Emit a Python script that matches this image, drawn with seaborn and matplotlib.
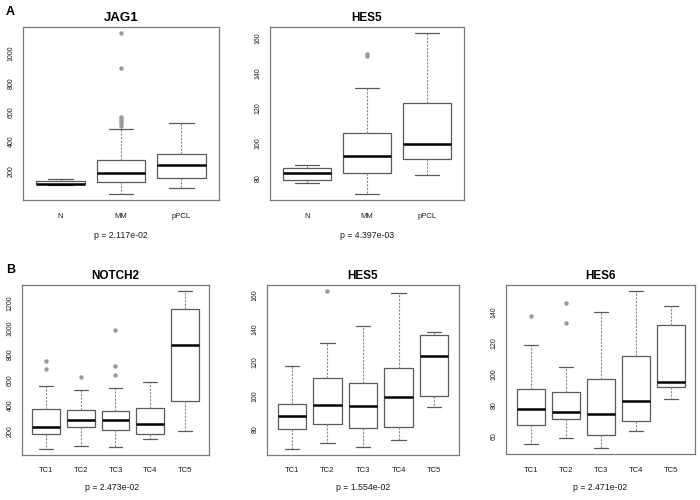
import numpy as np
import pandas as pd
import matplotlib
matplotlib.use("Agg")
import matplotlib.pyplot as plt
import seaborn as sns

# ---------------- data ----------------
# Panel A: JAG1
jag1_groups = ["N", "MM", "pPCL"]
jag1_lo = [103, 45, 86]
jag1_q1 = [109, 123, 154]
jag1_med = [111, 186, 239]
jag1_q3 = [134, 273, 318]
jag1_hi = [147, 488, 525]
jag1_out_grp = ["MM", "MM", "MM", "MM", "MM", "MM", "MM"]
jag1_out_val = [1136, 898, 566, 553, 540, 525, 505]
jag1_ticks = [200, 400, 600, 800, 1000]
jag1_p = "p = 2.117e-02"

# Panel A: HES5
hes5a_groups = ["N", "MM", "pPCL"]
hes5a_lo = [77.5, 71.4, 81.9]
hes5a_q1 = [79.4, 82.9, 91.3]
hes5a_med = [83.0, 92.8, 99.7]
hes5a_q3 = [86.0, 106.0, 123.3]
hes5a_hi = [87.5, 132.0, 163.0]
hes5a_out_grp = ["MM", "MM"]
hes5a_out_val = [151.2, 150.0]
hes5a_ticks = [80, 100, 120, 140, 160]
hes5a_p = "p = 4.397e-03"

# Panel B: NOTCH2
notch2_groups = ["TC1", "TC2", "TC3", "TC4", "TC5"]
notch2_lo = [61, 84, 76, 134, 200]
notch2_q1 = [174, 232, 208, 179, 437]
notch2_med = [232, 289, 287, 255, 871]
notch2_q3 = [368, 366, 355, 379, 1153]
notch2_hi = [550, 522, 534, 582, 1292]
notch2_out_grp = ["TC1", "TC1", "TC2", "TC3", "TC3", "TC3"]
notch2_out_val = [747, 682, 621, 989, 705, 637]
notch2_ticks = [200, 400, 600, 800, 1000, 1200]
notch2_p = "p = 2.473e-02"

# Panel B: HES5
hes5b_groups = ["TC1", "TC2", "TC3", "TC4", "TC5"]
hes5b_lo = [68.6, 72.0, 69.6, 73.8, 93.6]
hes5b_q1 = [80.6, 83.4, 81.0, 81.6, 100.0]
hes5b_med = [87.8, 94.8, 94.2, 99.2, 123.6]
hes5b_q3 = [95.4, 110.6, 108.0, 116.6, 136.2]
hes5b_hi = [117.6, 131.8, 142.0, 161.4, 138.4]
hes5b_out_grp = ["TC2"]
hes5b_out_val = [162.4]
hes5b_ticks = [80, 100, 120, 140, 160]
hes5b_p = "p = 1.554e-02"

# Panel B: HES6
hes6_groups = ["TC1", "TC2", "TC3", "TC4", "TC5"]
hes6_lo = [54.8, 58.9, 52.6, 63.5, 84.4]
hes6_q1 = [67.4, 71.0, 61.0, 70.0, 92.2]
hes6_med = [77.5, 76.0, 74.7, 82.7, 95.2]
hes6_q3 = [90.9, 88.8, 97.2, 112.1, 132.2]
hes6_hi = [119.0, 104.5, 140.2, 153.8, 144.5]
hes6_out_grp = ["TC1", "TC2", "TC2"]
hes6_out_val = [137.8, 146.5, 133.1]
hes6_ticks = [60, 80, 100, 120, 140]
hes6_p = "p = 2.471e-02"

# ---------------- style ----------------
sns.set_style("white")
plt.rcParams["font.family"] = ["Liberation Sans", "DejaVu Sans"]
plt.rcParams["text.color"] = "black"

W, H = 700, 500
fig = plt.figure(figsize=(7, 5), dpi=100)
fig.patch.set_facecolor("white")

FRAME = "#7a7a7a"
BOXC = "#5a5a5a"
WHISK = "#8a8a8a"
OUTC = "#9a9a9a"
TXT = "#1a1a1a"


def panel(rect_px, title, groups, lo, q1, med, q3, hi, out_grp, out_val,
          ticks, title_size=8.5):
    l, r, t, b = rect_px
    ax = fig.add_axes([l / W, 1 - b / H, (r - l) / W, (b - t) / H])
    rows = []
    for g, a, c, m, d, e in zip(groups, lo, q1, med, q3, hi):
        for v in (a, c, m, d, e):
            rows.append((g, v))
    df = pd.DataFrame(rows, columns=["group", "value"])
    sns.boxplot(data=df, x="group", y="value", order=groups, ax=ax,
                whis=(0, 100), showfliers=False, width=0.8,
                color="white", linecolor=BOXC, linewidth=0.9,
                medianprops=dict(color="black", linewidth=1.8),
                whiskerprops=dict(color=WHISK, linestyle=(0, (2, 1.2)), linewidth=0.8),
                capprops=dict(color=BOXC, linewidth=0.9))
    odf = pd.DataFrame({"group": out_grp, "value": out_val})
    sns.stripplot(data=odf, x="group", y="value", order=groups, ax=ax,
                  jitter=False, color=OUTC, size=3.2, linewidth=0, zorder=5)
    n = len(groups)
    allv = list(lo) + list(hi) + list(out_val)
    vmin, vmax = min(allv), max(allv)
    span = vmax - vmin
    ax.set_ylim(vmin - 0.04 * span, vmax + 0.04 * span)
    ax.set_xlim(-0.5 - 0.04 * n, n - 0.5 + 0.04 * n)
    ax.set_yticks(ticks)
    ax.set_yticklabels([str(v) for v in ticks], rotation=90, va="center",
                       fontsize=5, color=TXT)
    ax.set_xticks(range(n))
    ax.set_xticklabels(groups, fontsize=5.5, color=TXT)
    ax.tick_params(axis="both", length=3, width=0.7, color=FRAME, direction="out")
    ax.tick_params(axis="x", pad=6)
    ax.tick_params(axis="y", pad=3)
    ax.set_xlabel("")
    ax.set_ylabel("")
    for s in ax.spines.values():
        s.set_visible(True)
        s.set_color(FRAME)
        s.set_linewidth(0.9)
    ax.set_title(title, fontsize=title_size, fontweight="bold", pad=4,
                 color="black")
    return ax


panel((23, 219, 27, 200), "JAG1", jag1_groups, jag1_lo, jag1_q1, jag1_med,
      jag1_q3, jag1_hi, jag1_out_grp, jag1_out_val, jag1_ticks, 9.5)
panel((270, 464, 27, 200), "HES5", hes5a_groups, hes5a_lo, hes5a_q1, hes5a_med,
      hes5a_q3, hes5a_hi, hes5a_out_grp, hes5a_out_val, hes5a_ticks)
panel((22, 209, 285, 455), "NOTCH2", notch2_groups, notch2_lo, notch2_q1, notch2_med,
      notch2_q3, notch2_hi, notch2_out_grp, notch2_out_val, notch2_ticks)
panel((267, 459, 285, 455), "HES5", hes5b_groups, hes5b_lo, hes5b_q1, hes5b_med,
      hes5b_q3, hes5b_hi, hes5b_out_grp, hes5b_out_val, hes5b_ticks)
panel((506, 695, 285, 454), "HES6", hes6_groups, hes6_lo, hes6_q1, hes6_med,
      hes6_q3, hes6_hi, hes6_out_grp, hes6_out_val, hes6_ticks)

# p-values
for x, y, s in [(121, 236, jag1_p), (367, 236, hes5a_p),
                (112, 488, notch2_p), (363, 488, hes5b_p), (600, 488, hes6_p)]:
    fig.text(x / W, 1 - y / H, s, ha="center", va="center", fontsize=6.3,
             color=TXT)

# panel letters
fig.text(10 / W, 1 - 12 / H, "A", ha="center", va="center", fontsize=9,
         fontweight="bold", color="black")
fig.text(11 / W, 1 - 270 / H, "B", ha="center", va="center", fontsize=9,
         fontweight="bold", color="black")

fig.savefig("out.png", dpi=100, facecolor="white")
